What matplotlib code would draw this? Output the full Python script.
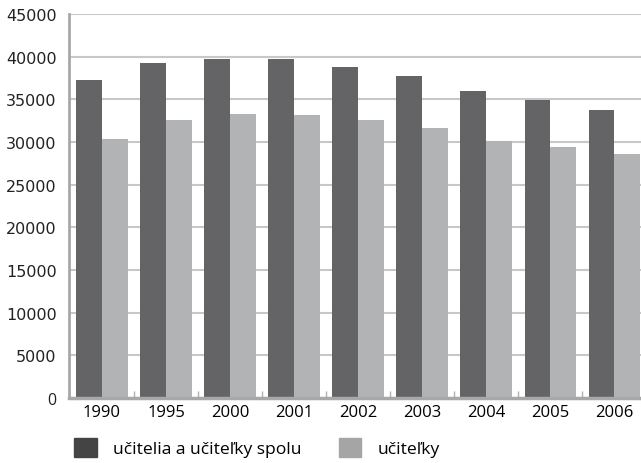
import matplotlib.pyplot as plt
from matplotlib.patches import Patch
import numpy as np

years = ['1990', '1995', '2000', '2001', '2002', '2003', '2004', '2005', '2006']
total = [37300, 39300, 39700, 39700, 38800, 37700, 36000, 34900, 33700]
women = [30400, 32600, 33300, 33200, 32600, 31600, 30100, 29400, 28600]
labels = ['učitelia a učiteľky spolu', 'učiteľky']

dark = '#646466'
light = '#b2b3b5'

fig = plt.figure(figsize=(6.41, 4.64), dpi=100)
ax = fig.add_axes([69 / 641, 1 - 399 / 464, 1 - 69 / 641, 384 / 464])

x = np.arange(len(years))
w = 0.4
ax.bar(x - w / 2, total, w, color=dark, zorder=3)
ax.bar(x + w / 2, women, w, color=light, zorder=3)

ax.set_ylim(0, 45000)
ax.set_xlim(-0.516, 8.42)
ax.set_yticks(np.arange(0, 45001, 5000))
ax.grid(axis='y', color='#c8c8c8', linewidth=1.5, zorder=0)

ax.set_xticks(x)
ax.set_xticklabels(years, fontfamily='Open Sans', fontsize=12)
ax.set_xticks(np.arange(0.5, len(years) - 0.5, 1), minor=True)
ax.tick_params(axis='x', which='major', length=0, pad=4)
ax.tick_params(axis='x', which='minor', length=5, direction='in', color='#b0b0b0', width=1)
ax.tick_params(axis='y', length=0, pad=9, labelsize=11.5, labelcolor='#222222')
ax.get_yticklabels()[0].set_fontfamily('Open Sans')

for s in ['top', 'right']:
    ax.spines[s].set_visible(False)
ax.spines['left'].set_color('#a8a8a8')
ax.spines['left'].set_linewidth(2)
ax.spines['bottom'].set_color('#a8a8a8')
ax.spines['bottom'].set_linewidth(2.5)
ax.spines['left'].set_zorder(4)
ax.spines['bottom'].set_zorder(4)

handles = [Patch(color='#444444'), Patch(color='#a5a5a5')]
fig.legend(handles, labels, loc='lower left', bbox_to_anchor=(74 / 641, 0.012),
           ncol=2, frameon=False, borderpad=0, borderaxespad=0,
           handlelength=1.3, handleheight=1.25, handletextpad=0.95,
           columnspacing=2.1, prop={'family': 'Open Sans', 'size': 12.6})

fig.savefig('out.png', dpi=100)
